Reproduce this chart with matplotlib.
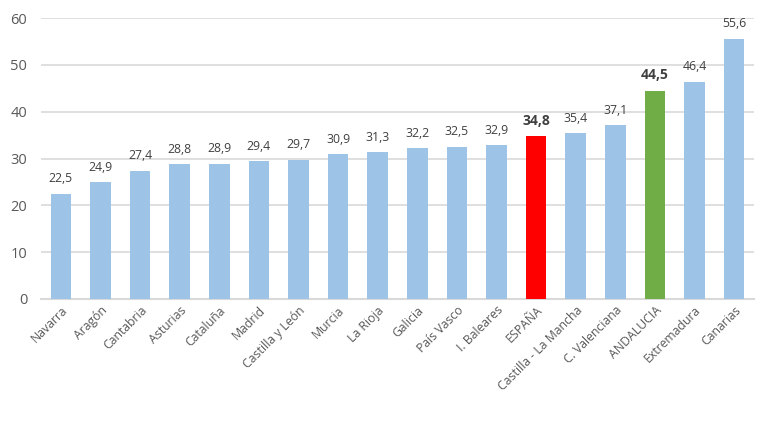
import matplotlib
matplotlib.use("Agg")
import matplotlib.pyplot as plt

regions = [
    "Navarra", "Aragón", "Cantabria", "Asturias", "Cataluña", "Madrid",
    "Castilla y León", "Murcia", "La Rioja", "Galicia", "País Vasco",
    "I. Baleares", "ESPAÑA", "Castilla - La Mancha", "C. Valenciana",
    "ANDALUCIA", "Extremadura", "Canarias",
]
values = [22.5, 24.9, 27.4, 28.8, 28.9, 29.4, 29.7, 30.9, 31.3, 32.2,
          32.5, 32.9, 34.8, 35.4, 37.1, 44.5, 46.4, 55.6]
highlight = {"ESPAÑA": "#FF0000", "ANDALUCIA": "#70AD47"}

plt.rcParams["font.family"] = ["Open Sans", "DejaVu Sans"]

fig = plt.figure(figsize=(7.74, 4.21), dpi=100)
ax = fig.add_axes([0.053, 0.29, 0.921, 0.667])

colors = [highlight.get(r, "#9DC3E6") for r in regions]
x = range(len(regions))
ax.bar(x, values, width=0.52, color=colors, zorder=3)

for i, (r, v) in enumerate(zip(regions, values)):
    label = f"{v:.1f}".replace(".", ",")
    if r in highlight:
        ax.text(i, v + 1.8, label, ha="center", va="bottom", fontsize=10,
                fontweight="bold", color="#404040")
    else:
        ax.text(i, v + 1.8, label, ha="center", va="bottom", fontsize=8.8,
                color="#404040")

ax.set_xlim(-0.5, len(regions) - 0.5)
ax.set_ylim(0, 60)
ax.set_yticks(range(0, 61, 10))
ax.yaxis.grid(True, color="#D9D9D9", linewidth=1.2, zorder=0)
ax.set_axisbelow(True)
for s in ["top", "right", "left"]:
    ax.spines[s].set_visible(False)
ax.spines["bottom"].set_color("#D9D9D9")
ax.spines["bottom"].set_linewidth(1.5)
ax.tick_params(axis="both", length=0, colors="#595959")
ax.tick_params(axis="y", pad=10, labelsize=10.5)
ax.set_xticks(list(x))
ax.set_xticklabels(regions, rotation=45, ha="right", rotation_mode="anchor",
                   fontsize=8.8)

fig.savefig("out.png", dpi=100)
